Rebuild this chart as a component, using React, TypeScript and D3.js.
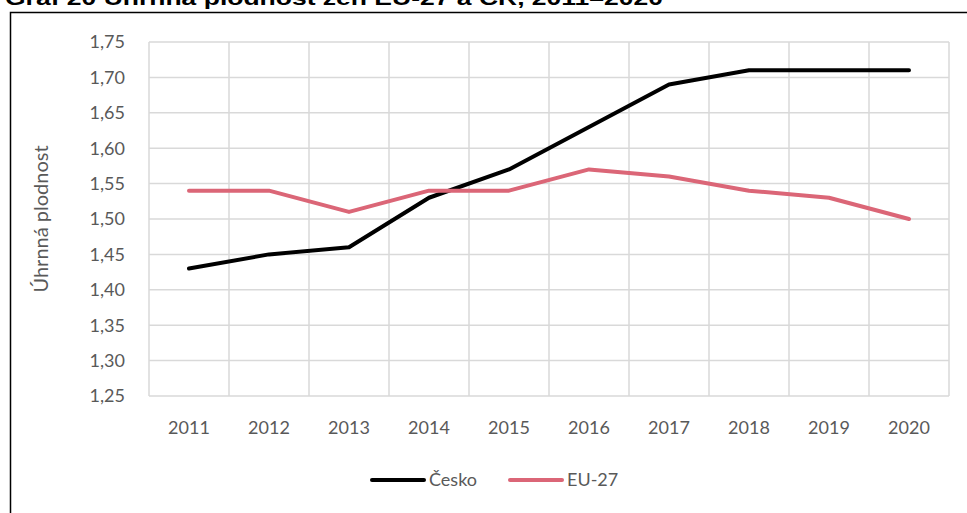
import React, { useRef, useEffect } from 'react';
import * as d3 from 'd3';

const years = ['2011', '2012', '2013', '2014', '2015', '2016', '2017', '2018', '2019', '2020'];
const cesko = [1.43, 1.45, 1.46, 1.53, 1.57, 1.63, 1.69, 1.71, 1.71, 1.71];
const eu27 = [1.54, 1.54, 1.51, 1.54, 1.54, 1.57, 1.56, 1.54, 1.53, 1.5];
const yTicks = [1.25, 1.3, 1.35, 1.4, 1.45, 1.5, 1.55, 1.6, 1.65, 1.7, 1.75];
const seriesNames = ['Česko', 'EU-27'];
const seriesColors = ['#000000', '#DB6677'];

const App = () => {
  const ref = useRef<SVGSVGElement>(null);

  useEffect(() => {
    const svg = d3.select(ref.current);
    svg.selectAll('*').remove();

    const font = 'Lato, "Open Sans", sans-serif';
    const textColor = '#595959';

    // title (cut off at top in the original)
    svg
      .append('text')
      .attr('x', 5)
      .attr('y', 5)
      .attr('font-family', '"Liberation Sans", Arial, sans-serif')
      .attr('font-weight', 'bold')
      .attr('font-size', 20)
      .attr('textLength', 658)
      .attr('lengthAdjust', 'spacingAndGlyphs')
      .attr('fill', '#000')
      .text('Graf 20 Úhrnná plodnost žen EU-27 a ČR, 2011–2020');

    // outer frame
    svg
      .append('rect')
      .attr('x', 10.5)
      .attr('y', 12.5)
      .attr('width', 1000)
      .attr('height', 600)
      .attr('fill', 'none')
      .attr('stroke', '#000')
      .attr('stroke-width', 1.5);

    const left = 149;
    const right = 949;
    const top = 42;
    const bottom = 396;

    const x = d3.scaleBand().domain(years).range([left, right]);
    const y = d3.scaleLinear().domain([1.25, 1.75]).range([bottom, top]);

    const grid = svg.append('g').attr('stroke', '#D9D9D9').attr('stroke-width', 1.5);
    yTicks.forEach((t) => {
      grid
        .append('line')
        .attr('x1', left)
        .attr('x2', right)
        .attr('y1', y(t))
        .attr('y2', y(t));
    });
    const bounds = years.map((yr) => x(yr) as number).concat([right]);
    bounds.forEach((b) => {
      grid
        .append('line')
        .attr('x1', b)
        .attr('x2', b)
        .attr('y1', top)
        .attr('y2', bottom);
    });

    // y tick labels
    svg
      .append('g')
      .selectAll('text')
      .data(yTicks)
      .join('text')
      .attr('x', left - 24)
      .attr('y', (d) => y(d))
      .attr('dy', '0.35em')
      .attr('text-anchor', 'end')
      .attr('font-family', font)
      .attr('font-size', 18)
      .attr('fill', textColor)
      .text((d) => d3.format('.2f')(d).replace('.', ','));

    // x tick labels
    svg
      .append('g')
      .selectAll('text')
      .data(years)
      .join('text')
      .attr('x', (d) => (x(d) as number) + x.bandwidth() / 2)
      .attr('y', bottom + 38)
      .attr('text-anchor', 'middle')
      .attr('font-family', font)
      .attr('font-size', 18)
      .attr('fill', textColor)
      .text((d) => d);

    // axis title
    svg
      .append('text')
      .attr('transform', `translate(48, ${(top + bottom) / 2}) rotate(-90)`)
      .attr('text-anchor', 'middle')
      .attr('font-family', font)
      .attr('font-size', 20)
      .attr('fill', textColor)
      .text('Úhrnná plodnost');

    const line = d3
      .line<number>()
      .x((_, i) => (x(years[i]) as number) + x.bandwidth() / 2)
      .y((d) => y(d));

    [cesko, eu27].forEach((s, i) => {
      svg
        .append('path')
        .datum(s)
        .attr('d', line)
        .attr('fill', 'none')
        .attr('stroke', seriesColors[i])
        .attr('stroke-width', 4)
        .attr('stroke-linecap', 'round')
        .attr('stroke-linejoin', 'round');
    });

    // legend
    const legendX = [372, 510];
    const legendY = 480;
    seriesNames.forEach((name, i) => {
      svg
        .append('line')
        .attr('x1', legendX[i])
        .attr('x2', legendX[i] + 52)
        .attr('y1', legendY)
        .attr('y2', legendY)
        .attr('stroke', seriesColors[i])
        .attr('stroke-width', 4)
        .attr('stroke-linecap', 'round');
      svg
        .append('text')
        .attr('x', legendX[i] + 57)
        .attr('y', legendY)
        .attr('dy', '0.35em')
        .attr('font-family', font)
        .attr('font-size', 18)
        .attr('fill', textColor)
        .text(name);
    });
  }, []);

  return (
    <svg
      ref={ref}
      width={967}
      height={513}
      style={{ position: 'absolute', left: 0, top: 0, display: 'block', background: '#fff' }}
    />
  );
};

export default App;
